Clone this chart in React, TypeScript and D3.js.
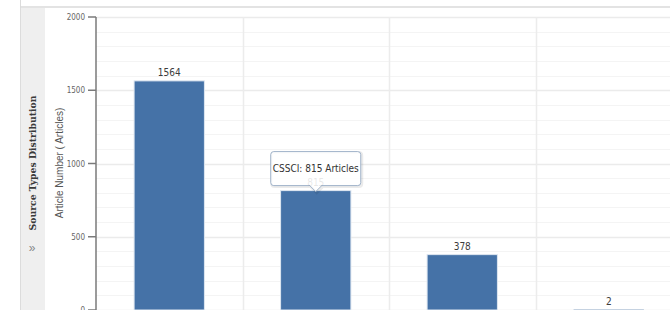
import React, { useEffect, useRef } from "react";
import * as d3 from "d3";

const categories = ["Core Journals", "CSSCI", "EI", "CSCD"];
const articleCounts = [1564, 815, 378, 2];
const yTicks = [0, 500, 1000, 1500, 2000];
const tooltipIndex = 1;

const W = 670;
const H = 310;
const narrow = "'DejaVu Sans Condensed', 'Liberation Sans Narrow', Arial, sans-serif";

export default function App() {
  const ref = useRef<SVGSVGElement>(null);

  useEffect(() => {
    const svg = d3.select(ref.current);
    svg.selectAll("*").remove();

    const margin = { top: 17, left: 96, bottom: 0, right: -12 };
    const y = d3.scaleLinear().domain([0, 2000]).range([H - margin.bottom, margin.top]);
    const x = d3
      .scaleBand()
      .domain(categories)
      .range([margin.left, W - margin.right])
      .paddingInner(0)
      .paddingOuter(0);
    const barW = x.bandwidth() * 0.48;

    // frame
    svg.append("rect").attr("width", W).attr("height", H).attr("fill", "#fff");
    svg.append("rect").attr("x", 20).attr("y", 8).attr("width", 25).attr("height", H - 8).attr("fill", "#efefef");
    svg.append("line").attr("x1", 20.5).attr("x2", 20.5).attr("y1", 0).attr("y2", H).attr("stroke", "#dcdcdc");
    svg.append("line").attr("x1", 20).attr("x2", W).attr("y1", 7).attr("y2", 7).attr("stroke", "#dadada").attr("stroke-width", 1.5);

    // side panel title
    svg.append("text")
      .attr("transform", `translate(36, ${163}) rotate(-90)`)
      .attr("text-anchor", "middle")
      .style("font-family", "'DejaVu Serif', serif")
      .style("font-size", "9px")
      .style("font-weight", "bold")
      .attr("fill", "#3a3a3a")
      .attr("textLength", 135)
      .attr("lengthAdjust", "spacingAndGlyphs")
      .text("Source Types Distribution");
    svg.append("text")
      .attr("x", 32).attr("y", 252)
      .attr("text-anchor", "middle")
      .style("font-family", "Arial, sans-serif")
      .style("font-size", "12px")
      .attr("fill", "#888")
      .text("»");

    // grid
    const minor = d3.range(0, 2001, 100);
    svg.append("g").selectAll("line").data(minor).enter().append("line")
      .attr("x1", margin.left).attr("x2", W)
      .attr("y1", (d) => Math.round(y(d)) + 0.5).attr("y2", (d) => Math.round(y(d)) + 0.5)
      .attr("stroke", (d) => (d % 500 === 0 ? "#ebebeb" : "#f4f4f4"))
      .attr("stroke-width", (d) => (d % 500 === 0 ? 1.5 : 1));
    svg.append("g").selectAll("line").data(categories.slice(1)).enter().append("line")
      .attr("x1", (d) => Math.round(x(d)!) + 0.5).attr("x2", (d) => Math.round(x(d)!) + 0.5)
      .attr("y1", margin.top).attr("y2", H)
      .attr("stroke", "#ececec").attr("stroke-width", 1.5);

    // bars
    svg.append("g").selectAll("rect").data(articleCounts).enter().append("rect")
      .attr("x", (d, i) => x(categories[i])! + (x.bandwidth() - barW) / 2)
      .attr("y", (d) => y(d))
      .attr("width", barW)
      .attr("height", (d) => y(0) - y(d))
      .attr("fill", "#4572a7")
      .attr("stroke", (d) => (d < 10 ? "none" : "#dfe7f1"))
      .attr("stroke-width", 1);

    // data labels
    svg.append("g").selectAll("text").data(articleCounts).enter().append("text")
      .attr("x", (d, i) => x(categories[i])! + x.bandwidth() / 2)
      .attr("y", (d) => y(d) - 5)
      .attr("text-anchor", "middle")
      .style("font-family", narrow)
      .style("font-size", "10px")
      .attr("fill", "#3c3c3c")
      .text((d) => d);

    // y axis
    const ax = svg.append("g");
    ax.append("line").attr("x1", margin.left).attr("x2", margin.left).attr("y1", y(2000)).attr("y2", H)
      .attr("stroke", "#7a7a7a").attr("stroke-width", 1.5);
    ax.selectAll("line.tick").data(yTicks).enter().append("line")
      .attr("class", "tick")
      .attr("x1", margin.left - 8).attr("x2", margin.left)
      .attr("y1", (d) => y(d)).attr("y2", (d) => y(d))
      .attr("stroke", "#7a7a7a").attr("stroke-width", 1.5);
    ax.selectAll("text").data(yTicks).enter().append("text")
      .attr("x", margin.left - 11)
      .attr("y", (d) => y(d) + 3)
      .attr("text-anchor", "end")
      .style("font-family", narrow)
      .style("font-size", "8px")
      .attr("fill", "#666")
      .text((d) => d);

    svg.append("text")
      .attr("transform", `translate(63, ${163}) rotate(-90)`)
      .attr("text-anchor", "middle")
      .style("font-family", "'Liberation Sans', Arial, sans-serif")
      .style("font-size", "10px")
      .attr("fill", "#555")
      .text("Article Number ( Articles)");

    // tooltip
    const tx = x(categories[tooltipIndex])! + x.bandwidth() / 2;
    const tipY = y(articleCounts[tooltipIndex]) + 1;
    const bw = 90, bh = 34, r = 3;
    const bx = tx - bw / 2, by = tipY - 6 - bh;
    const p = `M${bx + r},${by} H${bx + bw - r} Q${bx + bw},${by} ${bx + bw},${by + r} V${by + bh - r} Q${bx + bw},${by + bh} ${bx + bw - r},${by + bh} H${tx + 6} L${tx},${tipY} L${tx - 6},${by + bh} H${bx + r} Q${bx},${by + bh} ${bx},${by + bh - r} V${by + r} Q${bx},${by} ${bx + r},${by} Z`;
    const tip = svg.append("g");
    tip.append("path").attr("d", p).attr("transform", "translate(1,1)")
      .attr("fill", "none").attr("stroke", "rgba(0,0,0,0.08)").attr("stroke-width", 3);
    tip.append("path").attr("d", p)
      .attr("fill", "rgba(255,255,255,0.88)")
      .attr("stroke", "#9fb2c9").attr("stroke-width", 1);
    tip.append("text")
      .attr("x", tx).attr("y", by + bh / 2 + 3.5)
      .attr("text-anchor", "middle")
      .style("font-family", narrow)
      .style("font-size", "10px")
      .attr("fill", "#333")
      .text(`${categories[tooltipIndex]}: ${articleCounts[tooltipIndex]} Articles`);
  }, []);

  return (
    <svg
      ref={ref}
      width={W}
      height={H}
      style={{ position: "fixed", left: 0, top: 0, display: "block" }}
    />
  );
}
